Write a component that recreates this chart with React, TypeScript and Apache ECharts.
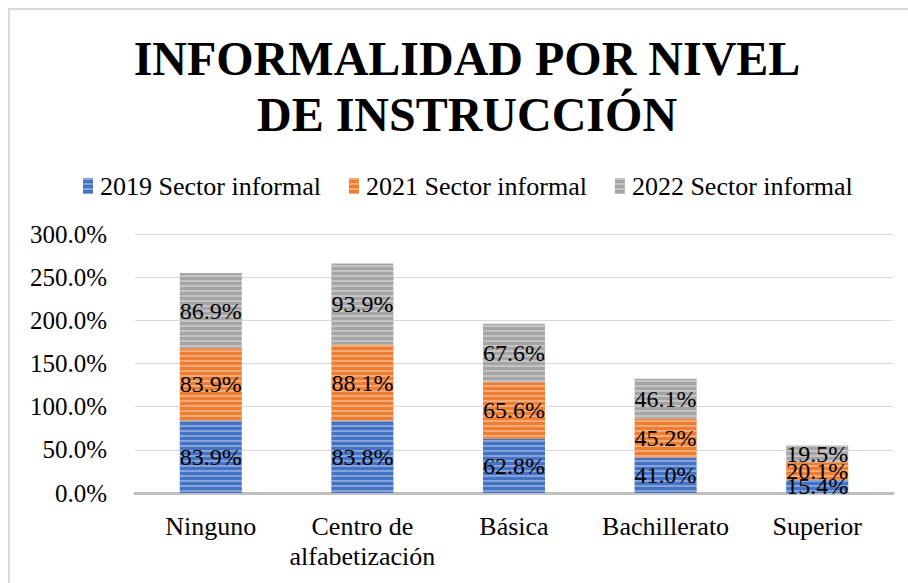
import React, { useEffect, useRef } from "react";
import * as echarts from "echarts";

const categories = ["Ninguno", "Centro de\nalfabetización", "Básica", "Bachillerato", "Superior"];
const seriesNames = ["2019 Sector informal", "2021 Sector informal", "2022 Sector informal"];
const values2019 = [83.9, 83.8, 62.8, 41.0, 15.4];
const values2021 = [83.9, 88.1, 65.6, 45.2, 20.1];
const values2022 = [86.9, 93.9, 67.6, 46.1, 19.5];
const colors = ["#4472C4", "#ED7D31", "#A5A5A5"];

const FONT = "Liberation Serif, Times New Roman, serif";

export default function App() {
  const ref = useRef<HTMLDivElement>(null);
  useEffect(() => {
    const chart = echarts.init(ref.current!, null, { renderer: "svg" });
    const data = [values2019, values2021, values2022];
    const stripe = (c: string) => ({
      color: c,
      decal: {
        symbol: "rect",
        symbolSize: 1,
        dashArrayX: [[1, 0]],
        dashArrayY: [2, 3],
        color: "rgba(255,255,255,0.35)",
        rotation: 0,
      },
    });
    chart.setOption({
      animation: false,
      backgroundColor: "#ffffff",
      textStyle: { fontFamily: FONT },
      title: {
        text: "INFORMALIDAD POR NIVEL\nDE INSTRUCCIÓN",
        left: 462,
        textAlign: "center",
        top: 25,
        textStyle: {
          fontFamily: FONT,
          fontSize: 48,
          fontWeight: "bold",
          color: "#000",
          lineHeight: 56,
        },
      },
      legend: {
        top: 168,
        left: 78,
        itemWidth: 10,
        itemHeight: 16,
        itemGap: 28,
        icon: "rect",
        textStyle: { fontFamily: FONT, fontSize: 26, color: "#000", padding: [0, 0, 0, 2] },
        data: seriesNames,
      },
      graphic: [
        {
          type: "rect",
          shape: { x: 9, y: 9, width: 1200, height: 1200 },
          style: { fill: "none", stroke: "#d9d9d9", lineWidth: 2 },
          silent: true,
        },
      ],
      grid: { left: 135, right: 15, top: 234, bottom: 90 },
      xAxis: {
        type: "category",
        data: categories,
        axisLine: { lineStyle: { color: "#bfbfbf", width: 3 } },
        axisTick: { show: false },
        axisLabel: {
          interval: 0,
          fontFamily: FONT,
          fontSize: 26,
          color: "#000",
          margin: 18,
          lineHeight: 30,
        },
      },
      yAxis: {
        type: "value",
        min: 0,
        max: 300,
        interval: 50,
        axisLine: { show: false },
        axisTick: { show: false },
        splitLine: { lineStyle: { color: "#d9d9d9", width: 1 } },
        axisLabel: {
          fontFamily: FONT,
          fontSize: 25,
          color: "#000",
          margin: 28,
          formatter: (v: number) => v.toFixed(1) + "%",
        },
      },
      series: seriesNames.map((name, i) => ({
        name,
        type: "bar",
        stack: "total",
        barWidth: 62,
        data: data[i],
        itemStyle: stripe(colors[i]),
        label: {
          show: true,
          position: "inside",
          fontFamily: FONT,
          fontSize: 24,
          color: "#000",
          formatter: (p: any) => p.value.toFixed(1) + "%",
        },
      })),
    });
    return () => chart.dispose();
  }, []);
  return (
    <div
      ref={ref}
      style={{ position: "fixed", left: 0, top: 0, width: 908, height: 583 }}
    />
  );
}
